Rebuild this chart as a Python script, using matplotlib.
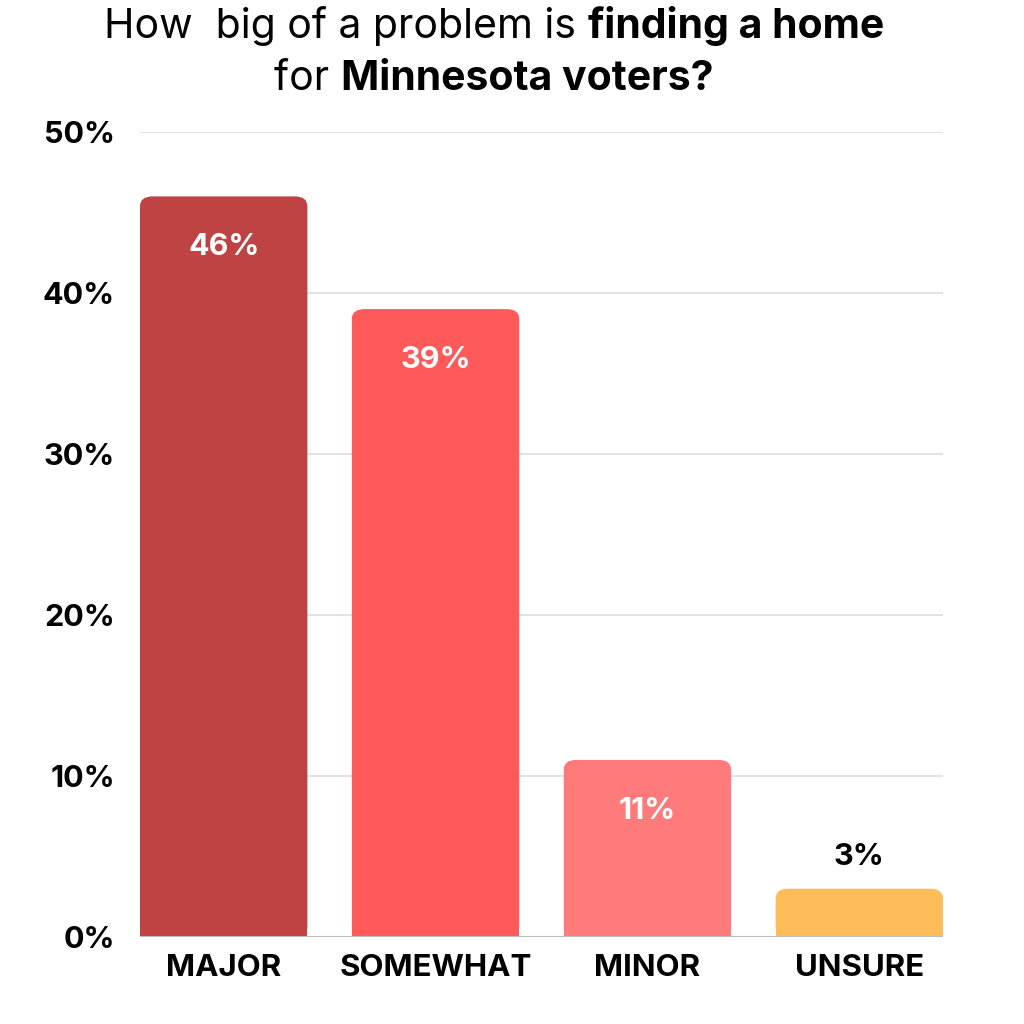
import matplotlib.pyplot as plt
from matplotlib.patches import FancyBboxPatch, Rectangle

categories = ["MAJOR", "SOMEWHAT", "MINOR", "UNSURE"]
values = [46, 39, 11, 3]
colors = ["#BF4343", "#FF5A5A", "#FF7B7B", "#FFBD59"]
yticks = [0, 10, 20, 30, 40, 50]

FONT = "Inter"
plt.rcParams["font.family"] = [FONT, "DejaVu Sans"]

fig = plt.figure(figsize=(10.24, 10.24), dpi=100)
ax = fig.add_axes([140 / 1024, 87 / 1024, 803 / 1024, 805 / 1024])

w = 0.79
ax.set_xlim(-w / 2, len(categories) - 1 + w / 2)
ax.set_ylim(0, 50)

for y in yticks[1:]:
    ax.axhline(y, color="#DDDDDD", lw=1.2, zorder=0)
ax.axhline(0, color="#BBBBBB", lw=1.5, zorder=3)

# rounded top corners: rounded box + plain rectangle over the lower part
rx = 0.06
ry = 0.6
for i, (v, c) in enumerate(zip(values, colors)):
    x0 = i - w / 2
    ax.add_patch(FancyBboxPatch((x0, 0), w, v, boxstyle="round,pad=0,rounding_size=0.06",
                                mutation_aspect=ry / rx, fc=c, ec="none", zorder=2))
    ax.add_patch(Rectangle((x0, 0), w, v - ry * 1.5, fc=c, ec="none", zorder=2))
    if v > 8:
        ax.annotate(f"{v}%", (i, v), xytext=(0, -51), textcoords="offset pixels",
                    ha="center", va="center", color="white", fontsize=22, fontweight="bold")
    else:
        ax.annotate(f"{v}%", (i, v), xytext=(0, 32), textcoords="offset pixels",
                    ha="center", va="center", color="black", fontsize=22, fontweight="bold")

ax.set_xticks(range(len(categories)))
ax.set_xticklabels(categories, fontsize=22.5, fontweight="bold")
ax.set_yticks(yticks)
ax.set_yticklabels([f"{t}%" for t in yticks], fontsize=22, fontweight="bold")
ax.tick_params(length=0)
ax.tick_params(axis="x", pad=12)
ax.tick_params(axis="y", pad=18)
for s in ax.spines.values():
    s.set_visible(False)

# title with mixed weights
renderer = fig.canvas.get_renderer()
lines = [
    [("How  big of a problem is ", "normal"), ("finding a home", "bold")],
    [("for ", "normal"), ("Minnesota voters?", "bold")],
]
baselines = [38, 90]
cx = 494
for parts, base in zip(lines, baselines):
    texts = []
    widths = []
    for s, wt in parts:
        t = fig.text(0, 0, s, fontsize=29.5, fontweight=wt, va="baseline", ha="left")
        widths.append(t.get_window_extent(renderer).width)
        texts.append(t)
    x = cx - sum(widths) / 2
    for t, wd in zip(texts, widths):
        t.set_position((x / 1024, 1 - base / 1024))
        x += wd

fig.savefig("out.png", dpi=100, facecolor="white")
